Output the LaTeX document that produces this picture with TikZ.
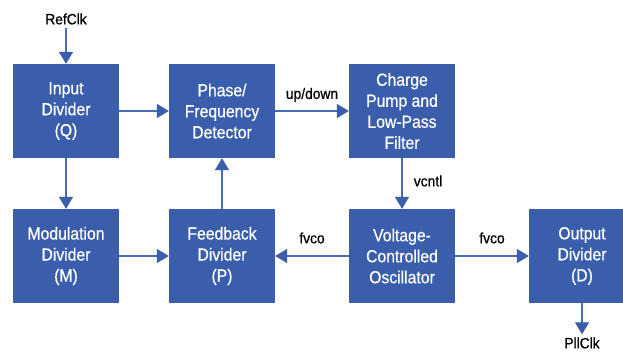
\documentclass[tikz,border=0pt]{standalone}
\usepackage{fontspec}
\setmainfont{Liberation Sans}
\newfontfamily\boxfont[FakeStretch=0.9,FakeBold=0.6]{Liberation Sans}
\newfontfamily\lblfont[FakeStretch=0.92,FakeBold=0.8]{Liberation Sans}
\usetikzlibrary{arrows.meta}
\definecolor{boxblue}{RGB}{58,94,172}
\definecolor{lineblue}{RGB}{72,108,182}
\begin{document}
\begin{tikzpicture}[x=1pt,y=-1pt,
  blk/.style={fill=boxblue, draw=none, text=white, minimum width=106pt, minimum height=94pt,
    inner sep=0pt, align=center, font=\boxfont\fontsize{17.5}{21}\selectfont},
  lbl/.style={text=black, inner sep=3pt, font=\lblfont\fontsize{15}{17}\selectfont},
  arr/.style={draw=lineblue, line width=1.4pt, -{Triangle[length=12pt,width=14pt,color=boxblue]}}]
\clip (0,0) rectangle (623,352);
\fill[white] (0,0) rectangle (623,352);
% blocks
\node[blk] (inp) at (66,111) {Input\\Divider\\(Q)};
\node[blk] (pfd) at (222,111) {Phase/\\Frequency\\Detector};
\node[blk] (cp)  at (402,111) {Charge\\Pump and\\Low-Pass\\Filter};
\node[blk] (mod) at (66,256) {Modulation\\Divider\\(M)};
\node[blk] (fb)  at (222,256) {Feedback\\Divider\\(P)};
\node[blk] (vco) at (402,256) {Voltage-\\Controlled\\Oscillator};
\node[blk] (out) at (582,256) {Output\\Divider\\(D)};
% labels
\node[lbl] (ref) at (66,19) {RefClk};
\node[lbl] (pll) at (582,343) {PllClk};
\node[lbl] (ud) at (312,95) {up/down};
\node[lbl] (vc) at (428,181) {vcntl};
\node[lbl] (fv1) at (312,238) {fvco};
\node[lbl] (fv2) at (492,238) {fvco};
% connectors
\draw[arr] (ref.south) -- (inp.north);
\draw[arr] (inp.east) -- (pfd.west);
\draw[arr] (pfd.east) -- (cp.west);
\draw[arr] (inp.south) -- (mod.north);
\draw[arr] (fb.north) -- (pfd.south);
\draw[arr] (cp.south) -- (vco.north);
\draw[arr] (mod.east) -- (fb.west);
\draw[arr] (vco.west) -- (fb.east);
\draw[arr] (vco.east) -- (out.west);
\draw[arr] (out.south) -- (pll.north);
\end{tikzpicture}
\end{document}
